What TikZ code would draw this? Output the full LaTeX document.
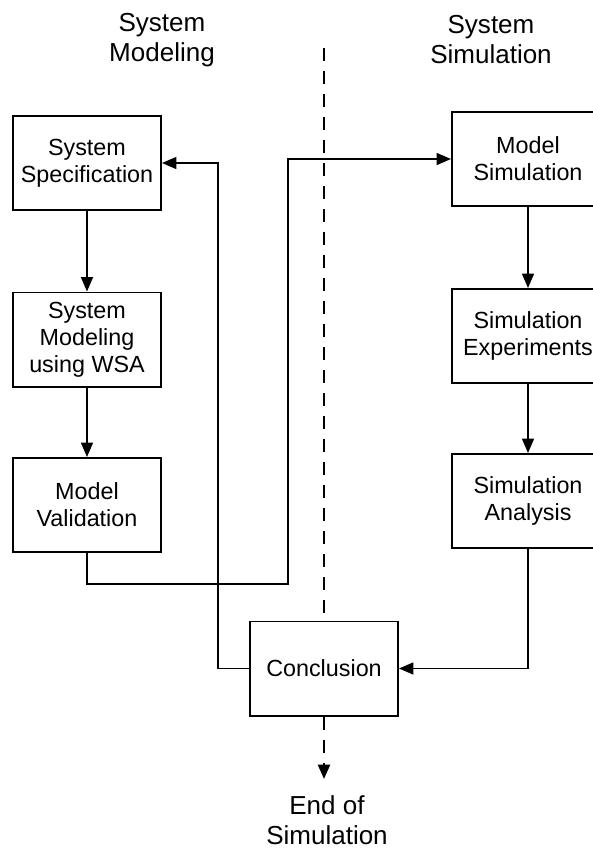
\documentclass[tikz,border=0pt]{standalone}
\usepackage{fontspec}
\setmainfont{Liberation Sans}
\usepackage{tikz}
\usetikzlibrary{arrows.meta, positioning}

\begin{document}
\begin{tikzpicture}[
    x=0.025cm, y=-0.025cm,
    >={Triangle[length=0.36cm, width=0.3cm]},
    font=\fontsize{16.6}{19.2}\selectfont,
    procbox/.style={draw, line width=1.4pt, rectangle, minimum width=3.7cm, minimum height=2.35cm, align=center, inner sep=0pt},
    simbox/.style={procbox, minimum width=3.8cm},
    heading/.style={font=\fontsize{18.5}{21.3}\selectfont, align=center},
    arr/.style={->, line width=1.1pt},
    line/.style={line width=1.1pt},
    divider/.style={line width=1.7pt, dash pattern=on 0.325cm off 0.25cm}
]
\clip (0,0) rectangle (593,851);

\node[heading] (hmodel) at (162,40) {System\\Modeling};
\node[heading] (hsim) at (491,40) {System\\Simulation};

\node[procbox] (spec) at (87,163) {System\\Specification};
\node[procbox] (wsa) at (87,339.5) {System\\Modeling\\using WSA};
\node[procbox] (valid) at (87,505) {Model\\Validation};

\node[simbox] (msim) at (528,159) {Model\\Simulation};
\node[simbox] (simexp) at (528,336) {Simulation\\Experiments};
\node[simbox] (simana) at (528,501) {Simulation\\Analysis};

\node[procbox] (concl) at (324,668.5) {Conclusion};
\node[heading] (endsim) at (327,820) {End of\\Simulation};

\coordinate (dtop) at (324,48);
\coordinate (dend) at (324,779);
\coordinate (vbend) at (288,584);
\coordinate (fbend) at (218,668.5);

\draw[divider] (dtop) -- (concl.north);
\draw[divider, ->] (concl.south) -- (dend);

\draw[arr] (spec) -- (wsa);
\draw[arr] (wsa) -- (valid);
\draw[arr] (msim) -- (simexp);
\draw[arr] (simexp) -- (simana);

\draw[arr] (valid.south) |- (vbend) |- (msim.west);
\draw[arr] (concl.west) -- (fbend) |- (spec.east);
\draw[arr] (simana.south) |- (concl.east);

\end{tikzpicture}
\end{document}
